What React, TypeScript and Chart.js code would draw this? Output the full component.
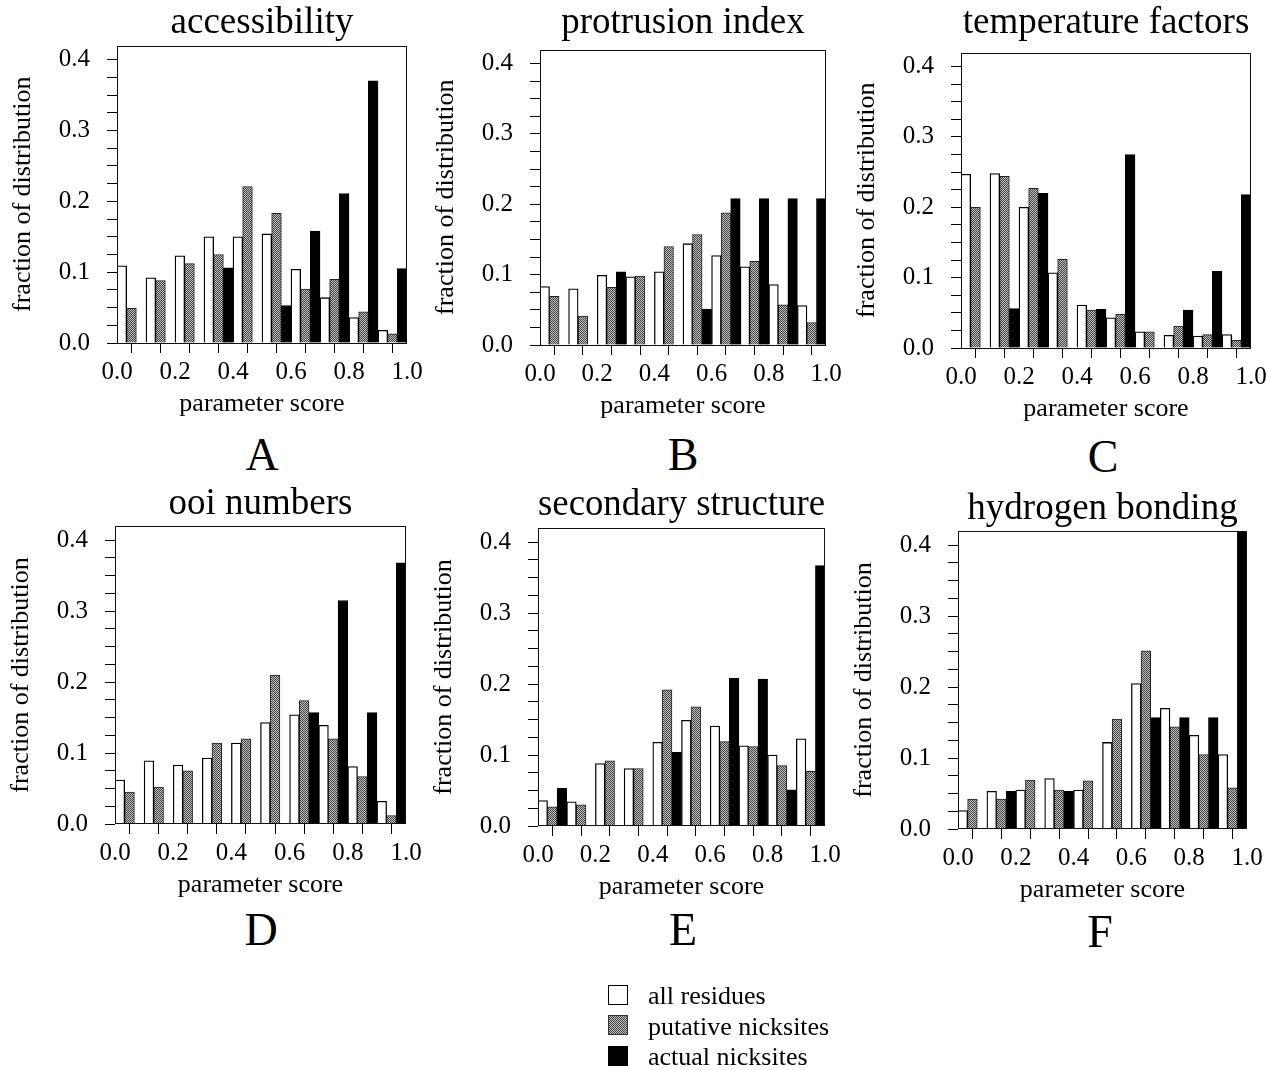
import React, { useEffect, useRef } from 'react';
import { Chart, registerables } from 'chart.js';

Chart.register(...registerables);
Chart.defaults.font.family = "'Liberation Serif', 'Times New Roman', serif";
Chart.defaults.color = '#000';

// ---------- data ----------
const BINS = ['0.0-0.1', '0.1-0.2', '0.2-0.3', '0.3-0.4', '0.4-0.5', '0.5-0.6', '0.6-0.7', '0.7-0.8', '0.8-0.9', '0.9-1.0'];
const X_TICK_LABELS = ['0.0', '0.2', '0.4', '0.6', '0.8', '1.0'];
const Y_TICK_LABELS = ['0.0', '0.1', '0.2', '0.3', '0.4'];
const SERIES_NAMES = ['all residues', 'putative nicksites', 'actual nicksites'];

const accessAll = [0.109, 0.092, 0.123, 0.150, 0.150, 0.154, 0.104, 0.064, 0.036, 0.018];
const accessPut = [0.049, 0.088, 0.112, 0.125, 0.221, 0.183, 0.076, 0.090, 0.044, 0.013];
const accessAct = [null, null, null, 0.106, null, 0.053, 0.158, 0.211, 0.370, 0.105];

const protAll = [0.083, 0.080, 0.099, 0.097, 0.104, 0.144, 0.127, 0.111, 0.086, 0.056];
const protPut = [0.069, 0.041, 0.082, 0.098, 0.140, 0.157, 0.188, 0.119, 0.057, 0.032];
const protAct = [null, null, 0.104, null, null, 0.051, 0.208, 0.208, 0.208, 0.208];

const tempAll = [0.247, 0.248, 0.200, 0.107, 0.061, 0.043, 0.023, 0.018, 0.017, 0.019];
const tempPut = [0.200, 0.244, 0.227, 0.126, 0.054, 0.048, 0.023, 0.031, 0.019, 0.011];
const tempAct = [null, 0.056, 0.220, null, 0.055, 0.275, null, 0.054, 0.109, 0.218];

const ooiAll = [0.062, 0.089, 0.083, 0.093, 0.114, 0.143, 0.154, 0.139, 0.081, 0.032];
const ooiPut = [0.045, 0.052, 0.075, 0.114, 0.120, 0.210, 0.174, 0.120, 0.067, 0.012];
const ooiAct = [null, null, null, null, null, null, 0.157, 0.315, 0.157, 0.368];

const secAll = [0.036, 0.034, 0.088, 0.081, 0.118, 0.149, 0.141, 0.113, 0.100, 0.123];
const secPut = [0.027, 0.030, 0.092, 0.081, 0.192, 0.168, 0.119, 0.112, 0.085, 0.077];
const secAct = [0.053, null, null, null, 0.104, null, 0.208, 0.207, 0.051, 0.367];

const hbAll = [0.026, 0.053, 0.055, 0.071, 0.055, 0.122, 0.205, 0.170, 0.132, 0.105];
const hbPut = [0.042, 0.042, 0.069, 0.055, 0.068, 0.155, 0.251, 0.144, 0.105, 0.058];
const hbAct = [null, 0.053, null, 0.053, null, null, 0.157, 0.157, 0.157, 0.42];

const Y_MAX = 0.42;

// ---------- layout ----------
const YW = 117; // y axis band width
const XH = 80; // x axis band height
const RIGHT_PAD = 20;

type PanelDef = {
  title: string; letter: string;
  all: (number | null)[]; put: (number | null)[]; act: (number | null)[];
  l: number; r: number; t: number; b: number; titleMid: number;
  letterX: number; letterBase: number;
};

const PANELS: PanelDef[] = [
  { title: 'accessibility', letter: 'A', all: accessAll, put: accessPut, act: accessAct, l: 117, r: 407, t: 45, b: 343, titleMid: 23, letterX: 262, letterBase: 470 },
  { title: 'protrusion index', letter: 'B', all: protAll, put: protPut, act: protAct, l: 540, r: 826, t: 49, b: 345, titleMid: 23, letterX: 683, letterBase: 470 },
  { title: 'temperature factors', letter: 'C', all: tempAll, put: tempPut, act: tempAct, l: 961, r: 1251, t: 52, b: 348, titleMid: 23, letterX: 1103, letterBase: 472 },
  { title: 'ooi numbers', letter: 'D', all: ooiAll, put: ooiPut, act: ooiAct, l: 115, r: 406, t: 526, b: 824, titleMid: 504.5, letterX: 261, letterBase: 945 },
  { title: 'secondary structure', letter: 'E', all: secAll, put: secPut, act: secAct, l: 538, r: 825, t: 528, b: 826, titleMid: 505.5, letterX: 683, letterBase: 945 },
  { title: 'hydrogen bonding', letter: 'F', all: hbAll, put: hbPut, act: hbAct, l: 958, r: 1247, t: 531, b: 829, titleMid: 509.5, letterX: 1100, letterBase: 947 },
];

function makePattern(ctx: CanvasRenderingContext2D): CanvasPattern | string {
  const c = document.createElement('canvas');
  c.width = 2; c.height = 2;
  const g = c.getContext('2d');
  if (!g) return '#888';
  g.fillStyle = '#c4c4c4'; g.fillRect(0, 0, 2, 2);
  g.fillStyle = '#404040';
  g.fillRect(0, 0, 1, 1);
  g.fillRect(1, 1, 1, 1);
  return ctx.createPattern(c, 'repeat') || '#888';
}

const framePlugin = {
  id: 'frame',
  afterDatasetsDraw(chart: any) {
    const { ctx, chartArea } = chart;
    const { left, top, right, bottom } = chartArea;
    ctx.save();
    ctx.strokeStyle = '#111';
    ctx.lineWidth = 1;
    ctx.strokeRect(Math.round(left) + 0.5, Math.round(top) + 0.5, Math.round(right - left) - 1, Math.round(bottom - top) - 1);
    ctx.restore();
  },
};

const isTenth = (v: number) => Math.abs(v * 10 - Math.round(v * 10)) < 1e-6;

function Panel({ p }: { p: PanelDef }) {
  const ref = useRef<HTMLCanvasElement>(null);
  const canvasLeft = p.l - YW;
  const canvasTop = p.titleMid - 18.5;
  const width = YW + (p.r - p.l) + RIGHT_PAD;
  const height = (p.b - canvasTop) + XH;
  const titlePadBottom = p.t - canvasTop - 37;

  useEffect(() => {
    const canvas = ref.current;
    if (!canvas) return;
    const ctx = canvas.getContext('2d');
    if (!ctx) return;
    const pattern = makePattern(ctx);
    const chart = new Chart(canvas, {
      type: 'bar',
      data: {
        labels: BINS,
        datasets: [
          { label: SERIES_NAMES[0], data: p.all, backgroundColor: '#ffffff', borderColor: '#000', borderWidth: 1.3 },
          { label: SERIES_NAMES[1], data: p.put, backgroundColor: pattern as any, borderColor: '#222', borderWidth: 1 },
          { label: SERIES_NAMES[2], data: p.act, backgroundColor: '#000000', borderColor: '#000', borderWidth: 1 },
        ],
      },
      options: {
        responsive: false,
        animation: false,
        devicePixelRatio: 1,
        datasets: { bar: { categoryPercentage: 1, barPercentage: 1 } },
        layout: { padding: { left: 0, top: 0, right: RIGHT_PAD, bottom: 0 } },
        plugins: {
          legend: { display: false },
          tooltip: { enabled: false },
          title: {
            display: true,
            text: p.title,
            fullSize: false,
            color: '#000',
            font: { size: 37, weight: 'normal', lineHeight: 1 },
            padding: { top: 0, bottom: titlePadBottom },
          },
        },
        scales: {
          x: { type: 'category', display: false, offset: true },
          xl: {
            type: 'linear',
            position: 'bottom',
            min: 0,
            max: 1,
            offset: false,
            afterFit: (s: any) => { s.height = XH; },
            grid: { drawOnChartArea: false, drawTicks: true, tickLength: 10, color: '#000', lineWidth: 1 },
            border: { display: false },
            ticks: {
              stepSize: 0.1,
              autoSkip: false,
              maxRotation: 0,
              padding: 4,
              font: { size: 25 },
              color: '#000',
              callback: (v: any) => {
                const i = Math.round(Number(v) * 10);
                return i % 2 === 0 ? X_TICK_LABELS[i / 2] : '';
              },
            },
            title: { display: true, text: 'parameter score', font: { size: 26 }, color: '#000', padding: { top: 0, bottom: 3 } },
          },
          y: {
            type: 'linear',
            min: 0,
            max: Y_MAX,
            afterFit: (s: any) => { s.width = YW; },
            afterBuildTicks: (s: any) => { s.ticks = s.ticks.filter((t: any) => t.value <= 0.4001); },
            grid: { drawOnChartArea: false, drawTicks: true, tickLength: 10, color: '#000', lineWidth: 1 },
            border: { display: false },
            ticks: {
              stepSize: 0.025,
              includeBounds: false,
              autoSkip: false,
              padding: 17,
              font: { size: 25 },
              color: '#000',
              callback: (v: any) => {
                const n = Number(v);
                return isTenth(n) ? Y_TICK_LABELS[Math.round(n * 10)] : '';
              },
            },
            title: { display: true, text: 'fraction of distribution', font: { size: 26 }, color: '#000', padding: { top: 7.5, bottom: 0 } },
          },
        },
      } as any,
      plugins: [framePlugin],
    });
    return () => chart.destroy();
  }, []);

  return (
    <canvas
      ref={ref}
      width={width}
      height={height}
      style={{ position: 'absolute', left: canvasLeft, top: canvasTop, width, height }}
    />
  );
}

const swatchBase: React.CSSProperties = { position: 'absolute', left: 608, width: 20, height: 20, boxSizing: 'border-box' };

export default function App() {
  return (
    <div style={{ position: 'absolute', left: 0, top: 0, width: 1267, height: 1070, overflow: 'hidden', background: '#fff', fontFamily: "'Liberation Serif', 'Times New Roman', serif", color: '#000' }}>
      {PANELS.map((p) => <Panel key={p.letter} p={p} />)}
      {PANELS.map((p) => (
        <div key={'L' + p.letter} style={{ position: 'absolute', left: p.letterX - 50, width: 100, textAlign: 'center', top: p.letterBase - 38.5, fontSize: 46, lineHeight: '46px' }}>
          {p.letter}
        </div>
      ))}
      <div style={{ ...swatchBase, top: 985, border: '1.3px solid #000', background: '#fff' }} />
      <div style={{ ...swatchBase, top: 1015, border: '1px solid #333', background: 'repeating-conic-gradient(#404040 0 25%, #c4c4c4 0 50%) 0 0 / 2px 2px' }} />
      <div style={{ ...swatchBase, top: 1046, background: '#000' }} />
      {SERIES_NAMES.map((s, i) => (
        <div key={s} style={{ position: 'absolute', left: 648, top: 1005 + i * 30.5 - 22, fontSize: 26, lineHeight: '26px', whiteSpace: 'nowrap' }}>
          {s}
        </div>
      ))}
    </div>
  );
}
